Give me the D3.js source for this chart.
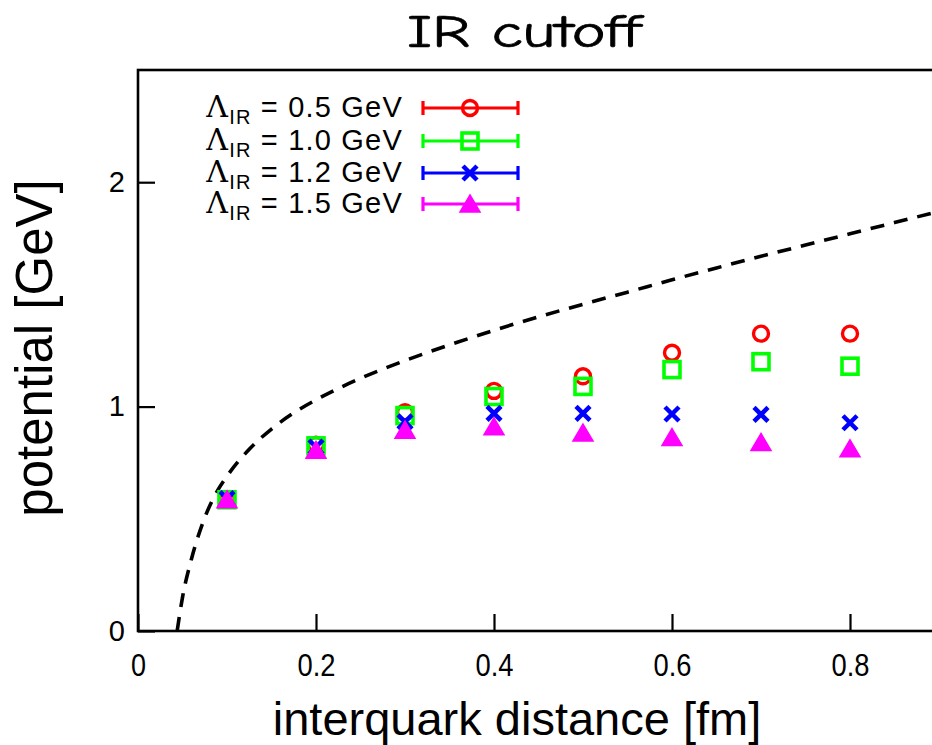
<!DOCTYPE html>
<html><head><meta charset="utf-8">
<script src="https://cdn.jsdelivr.net/npm/d3@7"></script>
<style>body{margin:0;background:#fff} svg{display:block}</style>
</head><body><svg id="c" width="932" height="745"></svg>
<script>
// ---- data ----
const distances = [0.1, 0.2, 0.3, 0.4, 0.5, 0.6, 0.7, 0.8];
const cutoffs = ["0.5", "1.0", "1.2", "1.5"];
const potential05 = [0.585, 0.83, 0.975, 1.07, 1.135, 1.24, 1.325, 1.325];
const potential10 = [0.585, 0.825, 0.96, 1.045, 1.09, 1.165, 1.20, 1.18];
const potential12 = [0.59, 0.82, 0.932, 0.97, 0.97, 0.967, 0.965, 0.928];
const potential15 = [0.585, 0.805, 0.895, 0.91, 0.882, 0.862, 0.84, 0.812];
const curveR = [0.044, 0.05, 0.06, 0.075, 0.09, 0.1, 0.125, 0.15, 0.175, 0.2, 0.25, 0.3, 0.35, 0.4, 0.45, 0.5, 0.55, 0.6, 0.65, 0.7, 0.75, 0.8, 0.85, 0.9];
const curveV = [0.0, 0.15, 0.32, 0.505, 0.63, 0.69, 0.81, 0.90, 0.972, 1.03, 1.126, 1.205, 1.275, 1.34, 1.40, 1.456, 1.51, 1.565, 1.618, 1.67, 1.72, 1.77, 1.82, 1.87];
const xTicks = [0, 0.2, 0.4, 0.6, 0.8];
const yTicks = [0, 1, 2];
const xTickLabels = ["0", "0.2", "0.4", "0.6", "0.8"];
const yTickLabels = ["0", "1", "2"];

const seriesColors = ["#ff0000", "#00ff00", "#0000ff", "#ff00ff"];
const seriesShapes = ["circle", "square", "cross", "triangle"];
const seriesValues = [potential05, potential10, potential12, potential15];

const svg = d3.select("#c");
const L = 138, R = 939, T = 70, B = 631;
const x = d3.scaleLinear().domain([0, 0.9]).range([L, R]);
const y = d3.scaleLinear().domain([0, 2.5]).range([B, T]);

// title
svg.append("text").attr("x", 524).attr("y", 47).attr("text-anchor", "middle")
  .attr("font-family", "'Comic Sans MS','Comic Neue','DejaVu Sans',sans-serif")
  .attr("font-size", 46).attr("textLength", 234).attr("lengthAdjust", "spacingAndGlyphs")
  .attr("fill", "#000").attr("stroke", "#000").attr("stroke-width", 0.7).text("IR cutoff");

// axes
const xAxis = d3.axisBottom(x).tickValues(xTicks).tickFormat((d,i)=>xTickLabels[i]).tickSize(-17).tickPadding(22);
const gx = svg.append("g").attr("transform", `translate(0,${B})`).call(xAxis);
const yAxis = d3.axisLeft(y).tickValues(yTicks).tickFormat((d,i)=>yTickLabels[i]).tickSize(-17).tickPadding(13);
const gy = svg.append("g").attr("transform", `translate(${L},0)`).call(yAxis);
[gx, gy].forEach(g => {
  g.select(".domain").remove();
  g.selectAll(".tick line").attr("stroke", "#000").attr("stroke-width", 2.2);
  g.selectAll(".tick text").attr("fill", "#000");
});
gx.selectAll(".tick text").attr("font-family", "'Liberation Sans',Arial,sans-serif").attr("font-size", 32)
  .each(function(d, i) {
    const s = xTickLabels[i];
    if (s.length > 1) d3.select(this).attr("textLength", 38).attr("lengthAdjust", "spacingAndGlyphs");
    else d3.select(this).attr("textLength", 15).attr("lengthAdjust", "spacingAndGlyphs");
  });
gy.selectAll(".tick text").attr("font-family", "'Liberation Sans',Arial,sans-serif").attr("font-size", 29);

// frame
svg.append("rect").attr("x", L).attr("y", T).attr("width", R - L).attr("height", B - T)
  .attr("fill", "none").attr("stroke", "#000").attr("stroke-width", 2.6);

// axis labels
svg.append("text").attr("x", 517).attr("y", 735).attr("text-anchor", "middle")
  .attr("font-family", "'Liberation Sans',Arial,sans-serif").attr("font-size", 47).attr("fill", "#000")
  .text("interquark distance [fm]");
svg.append("text").attr("transform", "translate(52,348) rotate(-90)").attr("text-anchor", "middle")
  .attr("font-family", "'Liberation Sans',Arial,sans-serif").attr("font-size", 51).attr("fill", "#000")
  .text("potential [GeV]");

// dashed curve
const curvePts = curveR.map((r, i) => [r, curveV[i]]);
svg.append("path").datum(curvePts)
  .attr("d", d3.line().x(d => x(d[0])).y(d => y(d[1])).curve(d3.curveMonotoneX))
  .attr("fill", "none").attr("stroke", "#000").attr("stroke-width", 3.6).attr("stroke-dasharray", "14,10");

// marker drawing
function marker(g, shape, color, cx, cy) {
  if (shape === "circle") {
    g.append("circle").attr("cx", cx).attr("cy", cy).attr("r", 7.5)
      .attr("fill", "none").attr("stroke", color).attr("stroke-width", 3.4);
  } else if (shape === "square") {
    g.append("rect").attr("x", cx - 8).attr("y", cy - 8).attr("width", 16).attr("height", 16)
      .attr("fill", "none").attr("stroke", color).attr("stroke-width", 3.6);
  } else if (shape === "cross") {
    const s = 7;
    g.append("path").attr("d", `M${cx - s},${cy - s}L${cx + s},${cy + s}M${cx - s},${cy + s}L${cx + s},${cy - s}`)
      .attr("stroke", color).attr("stroke-width", 4.5).attr("fill", "none");
  } else {
    const h = 9;
    g.append("path").attr("d", `M${cx},${cy - h}L${cx + 10},${cy + 8}L${cx - 10},${cy + 8}Z`)
      .attr("fill", color).attr("stroke", color).attr("stroke-width", 1.5);
  }
}

// data points
const gp = svg.append("g");
seriesValues.forEach((vals, si) => {
  vals.forEach((v, i) => marker(gp, seriesShapes[si], seriesColors[si], x(distances[i]), y(v)));
});

// legend
const legendRows = [108, 141, 173, 204];
const lg = svg.append("g");
cutoffs.forEach((c, i) => {
  const ly = legendRows[i];
  const t = lg.append("text").attr("x", 403).attr("y", ly + 9).attr("text-anchor", "end")
    .attr("font-family", "'Liberation Sans',Arial,sans-serif").attr("font-size", 29)
    .attr("letter-spacing", 1.2).attr("fill", "#000");
  t.append("tspan").attr("font-family", "'DejaVu Serif',serif").attr("font-size", 30).text("Λ");
  t.append("tspan").attr("font-size", 20).attr("dy", 7).text("IR");
  t.append("tspan").attr("dy", -7).text(` = ${c} GeV`);
  const col = seriesColors[i];
  lg.append("path").attr("d", `M423,${ly}H518M423,${ly - 7}V${ly + 7}M518,${ly - 7}V${ly + 7}`)
    .attr("stroke", col).attr("stroke-width", 3.2).attr("fill", "none");
  marker(lg, seriesShapes[i], col, 470, ly);
});
</script></body></html>
